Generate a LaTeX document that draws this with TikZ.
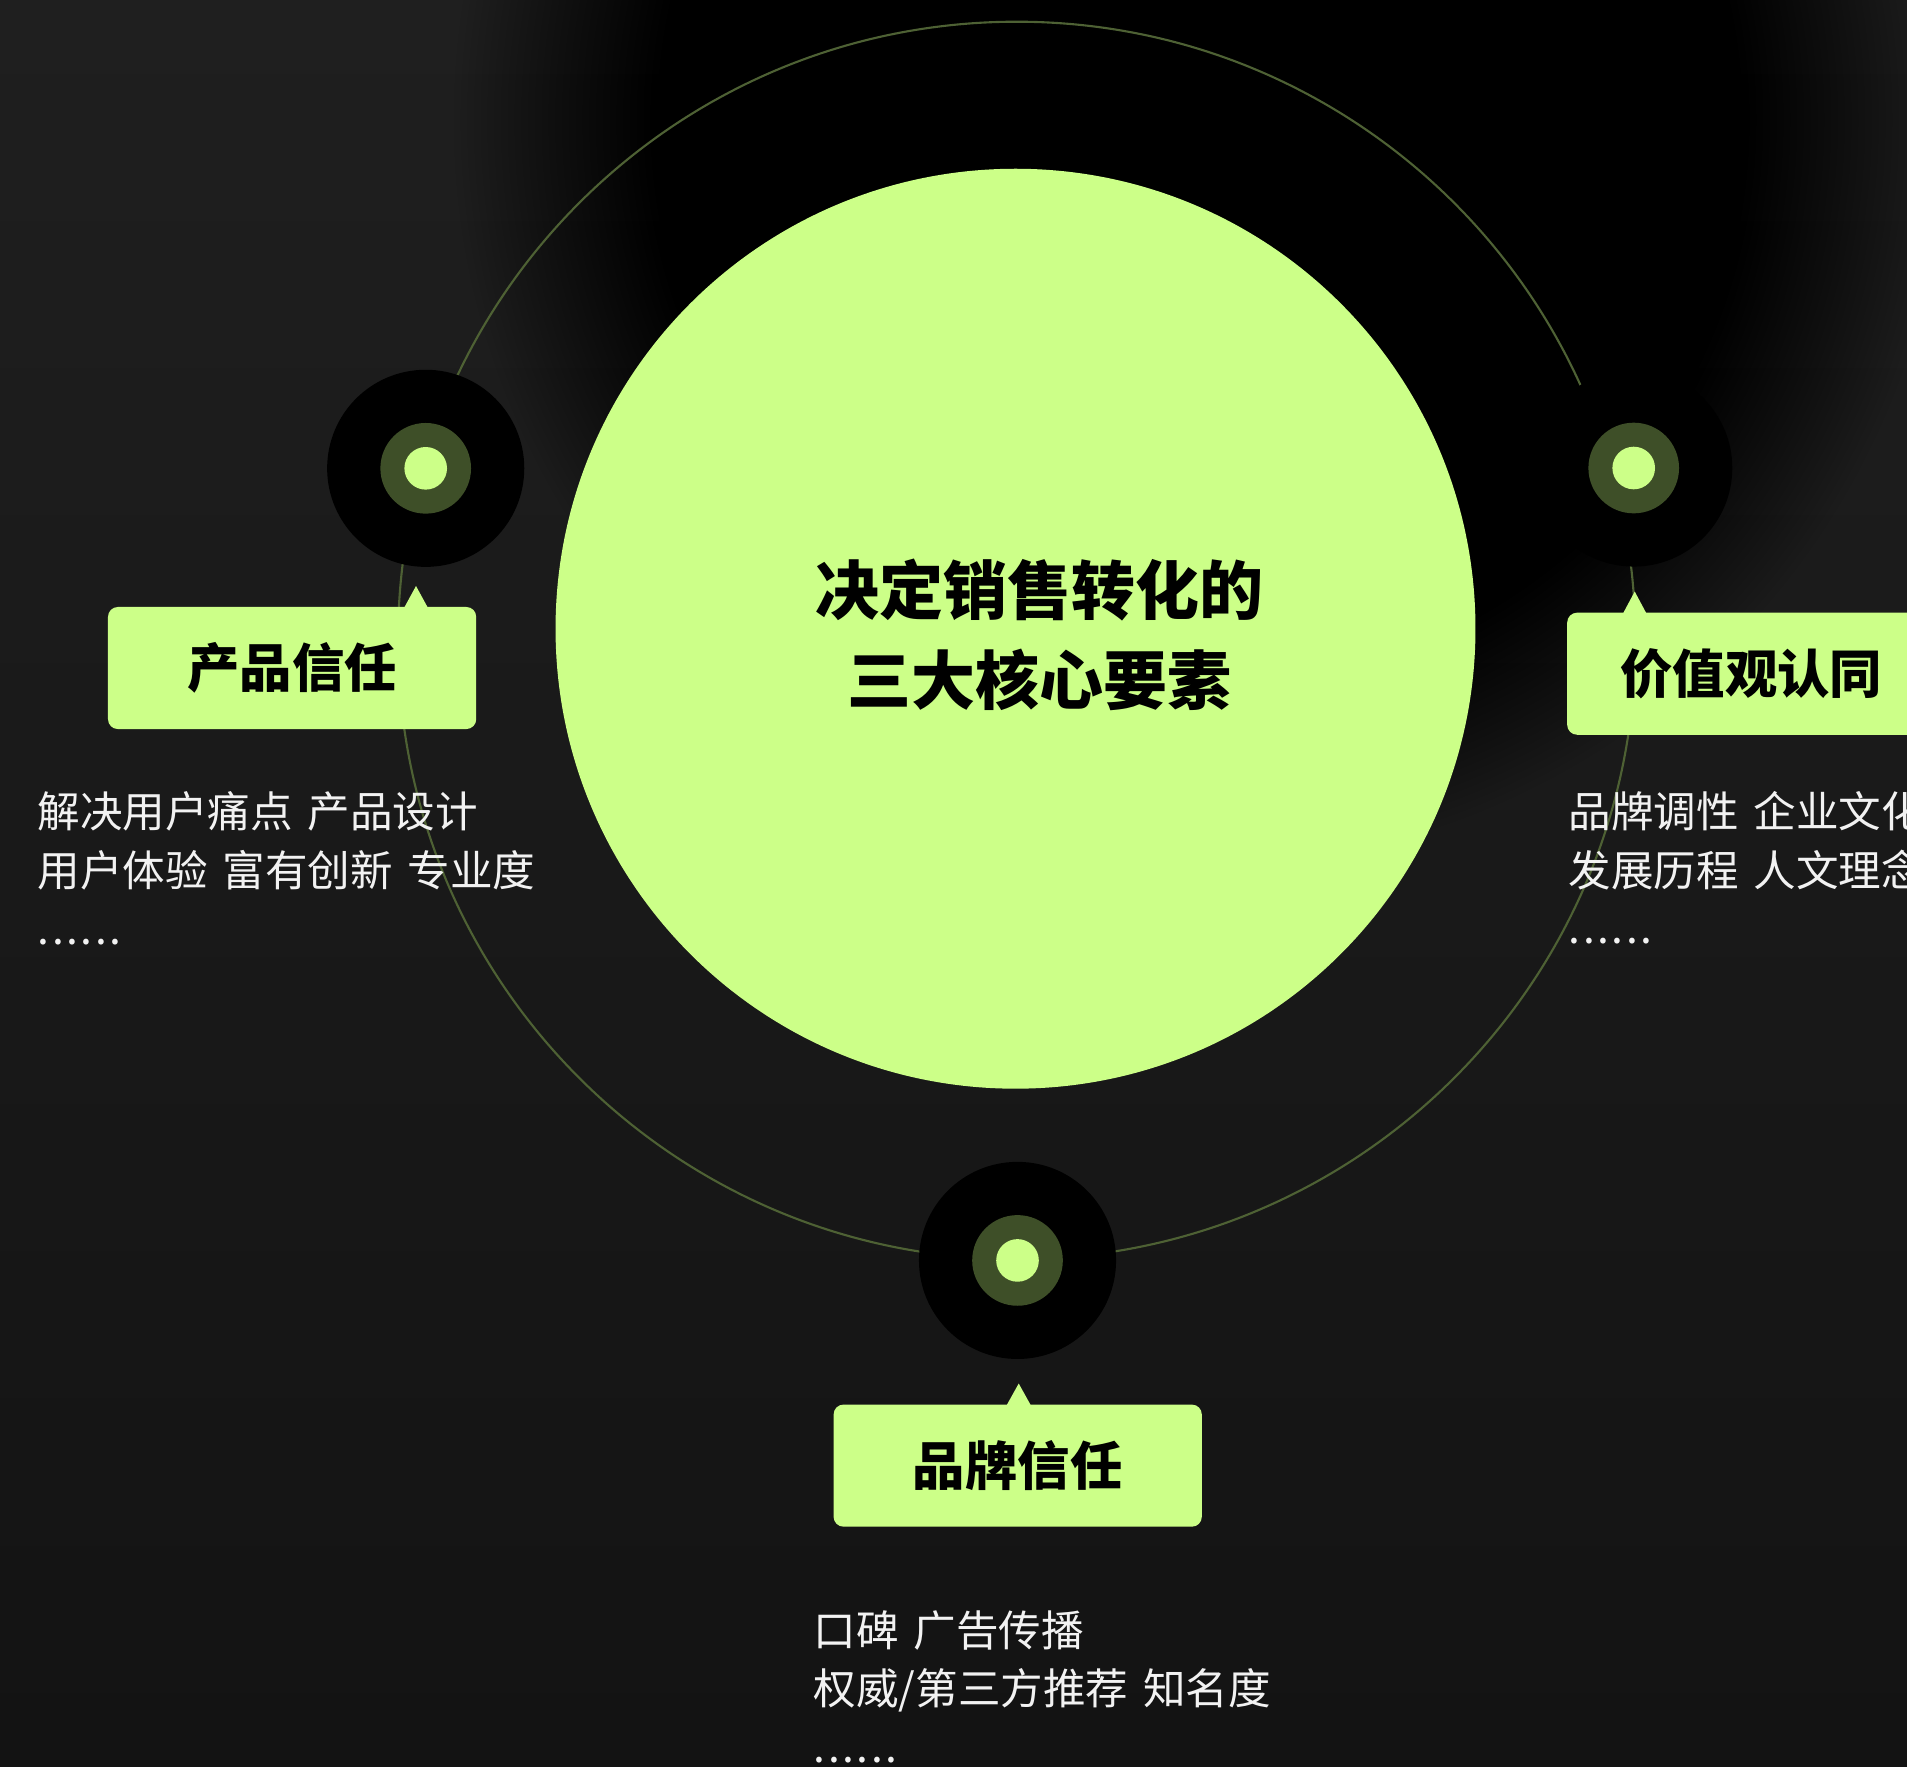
\documentclass[tikz,border=0pt]{standalone}
\usepackage{fontspec}
\newfontfamily\cjk{Noto Sans CJK SC}
\newfontfamily\cjkd[WordSpace=1.55]{Noto Sans CJK SC}

\definecolor{bgtop}{HTML}{1F1F1F}
\definecolor{bgbot}{HTML}{131313}
\definecolor{lime}{HTML}{CCFF88}
\definecolor{ringc}{HTML}{3E4F28}
\definecolor{orbitc}{HTML}{4E6134}
\definecolor{desctext}{HTML}{F2F2F2}
\definecolor{cornerglow}{HTML}{2A2421}

\newcommand\mydots{.\kern.06em.\kern.06em.\kern.06em.\kern.06em.\kern.06em.}

\tikzset{
  titlebox/.style={fill=lime, rounded corners=2.8pt, minimum width=3.68cm, minimum height=1.22cm,
    inner sep=0pt, text=black, font=\cjk\bfseries\fontsize{14.9pt}{14.9pt}\selectfont},
  desc/.style={anchor=base west, inner sep=0pt, text=desctext, font=\cjkd\fontsize{12.1pt}{16.8pt}\selectfont},
  disc/.style={circle, fill=black, minimum size=1.97cm, inner sep=0pt},
  ringdisc/.style={circle, fill=ringc, minimum size=0.906cm, inner sep=0pt},
  coredisc/.style={circle, fill=lime, minimum size=0.426cm, inner sep=0pt},
}

\begin{document}
\begin{tikzpicture}[x=0.01cm, y=-0.01cm]
\useasboundingbox (0,0) rectangle (1907,1766);
\clip (0,0) rectangle (1907,1766);
% background
\shade[top color=bgtop, bottom color=bgbot] (0,0) rectangle (1907,1766);
% faint warm glow in the top right corner
\foreach \k in {1,...,20} {
  \pgfmathsetmacro\aa{0.05}
  \pgfmathsetmacro\rr{260-\k*11}
  \fill[cornerglow, fill opacity=\aa] (1907,0) circle[radius=\rr];
}
% soft shadow behind the top of the picture
\foreach \k in {1,...,50} {
  \pgfmathsetmacro\tp{(\k-1)/50}
  \pgfmathsetmacro\tc{\k/50}
  \pgfmathsetmacro\cp{\tp*\tp*(3-2*\tp)}
  \pgfmathsetmacro\cc{\tc*\tc*(3-2*\tc)}
  \pgfmathsetmacro\aa{(\cc-\cp)/(1-\cp)}
  \pgfmathsetmacro\rr{760-\k*6.8}
  \fill[black, fill opacity=\aa] (1200,120) circle[radius=\rr];
}
% orbit
\draw[orbitc, line width=0.6pt] (1016.7,640.4) circle[radius=618.7];
% central circle
\node[circle, fill=lime, minimum size=9.194cm, inner sep=0pt] (core) at (1015.5,628.7) {};
\node[align=center, text=black, font=\cjk\bfseries\fontsize{18.2pt}{25.6pt}\selectfont] (title) at (1039,635) {决定销售转化的\\三大核心要素};

% left node
\node[disc] (n1) at (425.7,468.3) {};
\node[ringdisc] (r1) at (n1) {};
\node[coredisc] (c1) at (n1) {};
\fill[lime] (404,608) -- (416,586) -- (428,608) -- cycle;
\node[titlebox] (t1) at (292.1,668) {产品信任};
\node[desc] (d1a) at (37,827) {解决用户痛点 产品设计};
\node[desc] (d1b) at (37,886) {用户体验 富有创新 专业度};
\node[desc] (d1c) at (37,944) {\mydots};

% right node
\node[disc] (n2) at (1633.7,468) {};
\node[ringdisc] (r2) at (n2) {};
\node[coredisc] (c2) at (n2) {};
\fill[lime] (1622.7,614) -- (1634.7,591.5) -- (1646.7,614) -- cycle;
\node[titlebox] (t2) at (1751.3,673.7) {价值观认同};
\node[desc] (d2a) at (1568,827) {品牌调性 企业文化};
\node[desc] (d2b) at (1568,886) {发展历程 人文理念};
\node[desc] (d2c) at (1568,943) {\mydots};

% bottom node
\node[disc] (n3) at (1017.5,1260.4) {};
\node[ringdisc] (r3) at (n3) {};
\node[coredisc] (c3) at (n3) {};
\fill[lime] (1006.2,1406) -- (1018.7,1383.5) -- (1031.2,1406) -- cycle;
\node[titlebox] (t3) at (1017.7,1465.6) {品牌信任};
\node[desc] (d3a) at (813,1646.3) {口碑 广告传播};
\node[desc] (d3b) at (813,1704.6) {权威/第三方推荐 知名度};
\node[desc] (d3c) at (813,1762) {\mydots};
\end{tikzpicture}
\end{document}
